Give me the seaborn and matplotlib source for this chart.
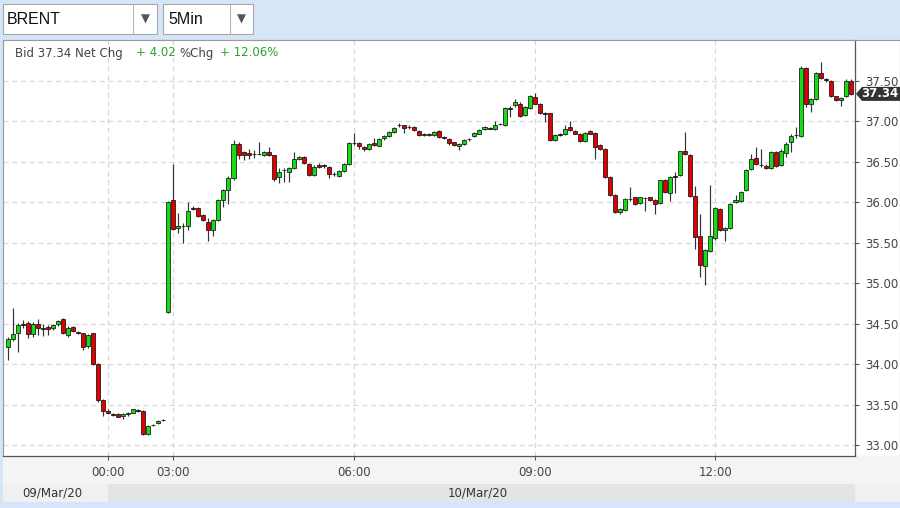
import numpy as np
import pandas as pd
import matplotlib
matplotlib.use("Agg")
import matplotlib.pyplot as plt
import seaborn as sns
from matplotlib.patches import Rectangle, Polygon

# ---------------- data ----------------
symbol = "BRENT"
interval = "5Min"
bid_text = "Bid 37.34 Net Chg"
net_chg = "+ 4.02"
pct_label = "%Chg"
pct_chg = "+ 12.06%"
last_price = 37.34
last_label = "37.34"

opens = [
    34.21, 34.31, 34.38, 34.50, 34.51, 34.37, 34.50, 34.45, 34.46, 34.45,
    34.49, 34.56, 34.36, 34.46, 34.40, 34.38, 34.22, 34.38, 34.00, 33.56,
    33.42, 33.38, 33.38, 33.36, 33.38, 33.40, 33.43, 33.42, 33.14, 33.24,
    33.27, 33.31,
    34.64, 36.03, 35.68, 35.70, 35.71, 35.92, 35.93, 35.84, 35.76, 35.66,
    35.78, 36.03, 36.15, 36.30, 36.72, 36.62, 36.61, 36.60, 36.60, 36.59,
    36.62, 36.58, 36.31, 36.40, 36.38, 36.43, 36.54, 36.56, 36.47, 36.34,
    36.46, 36.46, 36.44, 36.35, 36.33, 36.39, 36.47, 36.73, 36.73, 36.68,
    36.66, 36.73, 36.70, 36.79, 36.82, 36.87, 36.95, 36.95, 36.93, 36.93,
    36.88, 36.83, 36.85, 36.83, 36.88, 36.81, 36.78, 36.74, 36.69, 36.72,
    36.78, 36.82, 36.85, 36.90, 36.91, 36.91, 36.97, 36.95, 37.16, 37.20,
    37.22, 37.08, 37.16, 37.30, 37.22, 37.10, 37.10, 36.77, 36.84, 36.84,
    36.93, 36.88, 36.85, 36.76, 36.88, 36.86, 36.71, 36.66, 36.31, 36.09,
    35.88, 35.91, 36.04, 36.06, 35.99, 36.05, 36.06, 36.03, 35.99, 36.27,
    36.12, 36.32, 36.34, 36.64, 36.59, 36.08, 35.58, 35.21, 35.40, 35.56,
    35.92, 35.66, 35.68, 36.00, 36.01, 36.15, 36.41, 36.55, 36.46, 36.45,
    36.42, 36.62, 36.46, 36.61, 36.74, 36.83, 36.82, 37.66, 37.22, 37.28,
    37.60, 37.52, 37.50, 37.31, 37.26, 37.31, 37.50,
]
highs = [
    34.34, 34.69, 34.51, 34.55, 34.53, 34.52, 34.56, 34.49, 34.48, 34.49,
    34.54, 34.57, 34.47, 34.47, 34.41, 34.39, 34.37, 34.39, 34.01, 33.57,
    33.44, 33.40, 33.39, 33.39, 33.41, 33.45, 33.44, 33.43, 33.25, 33.26,
    33.31, 33.32,
    36.01, 36.47, 35.87, 35.75, 36.00, 35.95, 35.94, 35.85, 35.80, 35.79,
    36.04, 36.17, 36.33, 36.77, 36.74, 36.63, 36.66, 36.65, 36.75, 36.64,
    36.68, 36.59, 36.43, 36.42, 36.44, 36.62, 36.57, 36.57, 36.48, 36.46,
    36.48, 36.47, 36.45, 36.37, 36.40, 36.48, 36.74, 36.86, 36.75, 36.70,
    36.73, 36.79, 36.80, 36.83, 36.88, 36.93, 36.98, 36.96, 36.95, 36.94,
    36.89, 36.86, 36.86, 36.88, 36.89, 36.82, 36.79, 36.75, 36.73, 36.78,
    36.80, 36.87, 36.90, 36.94, 36.93, 37.00, 36.98, 37.18, 37.19, 37.28,
    37.24, 37.19, 37.33, 37.35, 37.23, 37.12, 37.11, 36.84, 36.86, 36.96,
    37.01, 36.89, 36.86, 36.87, 36.89, 36.87, 36.72, 36.67, 36.32, 36.10,
    35.93, 36.05, 36.19, 36.07, 36.07, 36.06, 36.07, 36.04, 36.28, 36.29,
    36.32, 36.37, 36.64, 36.87, 36.60, 36.20, 35.85, 35.42, 36.21, 35.94,
    35.93, 35.69, 35.99, 36.09, 36.14, 36.41, 36.60, 36.68, 36.66, 36.47,
    36.64, 36.63, 36.66, 36.74, 36.84, 36.93, 37.68, 37.67, 37.29, 37.61,
    37.74, 37.54, 37.51, 37.32, 37.30, 37.52, 37.52,
]
lows = [
    34.05, 34.28, 34.15, 34.45, 34.32, 34.33, 34.36, 34.35, 34.36, 34.42,
    34.47, 34.37, 34.34, 34.40, 34.37, 34.17, 34.20, 33.99, 33.53, 33.36,
    33.38, 33.36, 33.34, 33.32, 33.36, 33.39, 33.41, 33.12, 33.12, 33.23,
    33.26, 33.30,
    34.63, 35.66, 35.62, 35.50, 35.66, 35.90, 35.82, 35.77, 35.52, 35.58,
    35.77, 35.94, 35.98, 36.28, 36.53, 36.52, 36.53, 36.55, 36.58, 36.57,
    36.57, 36.26, 36.24, 36.25, 36.25, 36.41, 36.52, 36.47, 36.32, 36.33,
    36.42, 36.43, 36.30, 36.33, 36.31, 36.38, 36.46, 36.71, 36.66, 36.63,
    36.65, 36.70, 36.69, 36.77, 36.81, 36.86, 36.93, 36.86, 36.91, 36.88,
    36.82, 36.82, 36.82, 36.82, 36.80, 36.78, 36.71, 36.70, 36.65, 36.71,
    36.76, 36.81, 36.84, 36.89, 36.90, 36.89, 36.96, 36.94, 37.06, 37.18,
    37.06, 37.07, 37.15, 37.21, 37.09, 36.99, 36.76, 36.76, 36.82, 36.83,
    36.88, 36.84, 36.74, 36.75, 36.84, 36.54, 36.65, 36.30, 36.08, 35.87,
    35.86, 35.89, 36.02, 35.97, 35.98, 35.89, 36.02, 35.86, 35.98, 36.12,
    36.02, 36.11, 36.33, 36.59, 36.06, 35.42, 35.08, 34.98, 35.38, 35.54,
    35.65, 35.52, 35.67, 35.99, 36.00, 36.14, 36.40, 36.46, 36.44, 36.41,
    36.41, 36.44, 36.45, 36.56, 36.62, 36.80, 36.81, 37.18, 37.12, 37.27,
    37.53, 37.49, 37.30, 37.25, 37.19, 37.30, 37.33,
]
closes = [
    34.31, 34.37, 34.48, 34.48, 34.37, 34.50, 34.45, 34.43, 34.43, 34.48,
    34.53, 34.39, 34.45, 34.41, 34.38, 34.21, 34.36, 34.00, 33.56, 33.42,
    33.39, 33.37, 33.35, 33.38, 33.40, 33.44, 33.42, 33.14, 33.23, 33.25,
    33.30, 33.31,
    36.00, 35.67, 35.71, 35.71, 35.89, 35.93, 35.83, 35.78, 35.66, 35.78,
    36.03, 36.15, 36.30, 36.72, 36.58, 36.59, 36.58, 36.60, 36.60, 36.62,
    36.59, 36.29, 36.38, 36.40, 36.42, 36.53, 36.56, 36.49, 36.34, 36.44,
    36.44, 36.45, 36.35, 36.35, 36.39, 36.47, 36.73, 36.73, 36.69, 36.66,
    36.72, 36.71, 36.78, 36.82, 36.87, 36.92, 36.96, 36.92, 36.93, 36.89,
    36.83, 36.85, 36.83, 36.87, 36.81, 36.79, 36.73, 36.71, 36.72, 36.77,
    36.78, 36.86, 36.89, 36.93, 36.91, 36.96, 36.97, 37.17, 37.16, 37.24,
    37.07, 37.18, 37.31, 37.22, 37.10, 37.09, 36.77, 36.83, 36.84, 36.91,
    36.89, 36.85, 36.76, 36.86, 36.85, 36.68, 36.66, 36.31, 36.09, 35.88,
    35.92, 36.04, 36.04, 35.98, 36.06, 36.05, 36.03, 35.98, 36.27, 36.13,
    36.31, 36.32, 36.63, 36.60, 36.08, 35.57, 35.22, 35.41, 35.58, 35.93,
    35.66, 35.68, 35.98, 36.03, 36.13, 36.40, 36.54, 36.47, 36.46, 36.42,
    36.62, 36.45, 36.64, 36.72, 36.82, 36.84, 37.66, 37.22, 37.28, 37.60,
    37.54, 37.51, 37.31, 37.26, 37.29, 37.50, 37.34,
]

time_tick_pos = [20, 33, 69, 105, 141]
time_tick_labels = ["00:00", "03:00", "06:00", "09:00", "12:00"]
price_ticks = [33.0, 33.5, 34.0, 34.5, 35.0, 35.5, 36.0, 36.5, 37.0, 37.5]
price_tick_labels = ["33.00", "33.50", "34.00", "34.50", "35.00",
                     "35.50", "36.00", "36.50", "37.00", "37.50"]
date_labels = ["09/Mar/20", "10/Mar/20"]

# ---------------- styling ----------------
sns.set_style("white")
plt.rcParams["font.family"] = ["DejaVu Sans"]

W, H = 900, 508
fig = plt.figure(figsize=(W / 100, H / 100), dpi=100)
fig.patch.set_facecolor("#d6e6f8")


def fx(x):
    return x / W


def fy(y):
    return 1 - y / H


def frect(x0, y0, x1, y1, **kw):
    r = Rectangle((fx(x0), fy(y1)), fx(x1) - fx(x0), fy(y0) - fy(y1),
                  transform=fig.transFigure, **kw)
    fig.patches.append(r)
    return r


# chart panel backgrounds
frect(3, 40, 900, 456, facecolor="white", edgecolor="#9a9a9a", lw=0.8, zorder=-2)
frect(3, 456, 900, 484, facecolor="#f3f4f6", edgecolor="none", zorder=-2)
frect(3, 484, 108, 502, facecolor="#f0f0f2", edgecolor="none", zorder=-2)
frect(108, 484, 855, 502, facecolor="#e3e4e6", edgecolor="none", zorder=-2)
frect(855, 484, 900, 502, facecolor="#f0f0f2", edgecolor="none", zorder=-2)

# top dropdowns
frect(3, 4, 157, 34, facecolor="white", edgecolor="#a8a8a8", lw=0.8, zorder=1)
fig.add_artist(plt.Line2D([fx(133), fx(133)], [fy(5), fy(33)], color="#b5b5b5", lw=0.8,
                          transform=fig.transFigure))
fig.text(fx(7), fy(19), symbol, fontsize=11.5, family="Liberation Sans", va="center",
         ha="left", color="#111111")
fig.text(fx(145), fy(19.5), "▼", fontsize=8.5, va="center", ha="center", color="#555555")
frect(163, 4, 253, 34, facecolor="white", edgecolor="#a8a8a8", lw=0.8, zorder=1)
fig.add_artist(plt.Line2D([fx(230), fx(230)], [fy(5), fy(33)], color="#b5b5b5", lw=0.8,
                          transform=fig.transFigure))
fig.text(fx(168), fy(19), interval, fontsize=11.5, family="Liberation Sans", va="center",
         ha="left", color="#111111")
fig.text(fx(241), fy(19.5), "▼", fontsize=8.5, va="center", ha="center", color="#555555")

# ---------------- axes ----------------
ax = fig.add_axes([fx(3), fy(456), fx(855) - fx(3), fy(40) - fy(456)])
ax.set_facecolor("white")

df = pd.DataFrame({"i": np.arange(len(opens)), "open": opens, "high": highs,
                   "low": lows, "close": closes})
df["bottom"] = df[["open", "close"]].min(axis=1)
df["height"] = (df["close"] - df["open"]).abs()
diff = df["close"] - df["open"]
df["kind"] = np.where(diff > 0.015, "up", np.where(diff < -0.015, "down", "flat"))
df.loc[df["kind"] == "flat", "height"] = 0.006
df.loc[df["kind"] == "flat", "bottom"] = (df["open"] + df["close"]) / 2 - 0.003

# wicks
ax.vlines(df["i"], df["low"], df["high"], color="#333333", lw=0.85, zorder=2)

colors = {"up": "#16dc16", "down": "#e00000", "flat": "#111111"}
for kind, col in colors.items():
    sub = df[df["kind"] == kind].sort_values("i")
    sns.barplot(data=sub, x="i", y="height", bottom=sub["bottom"].to_numpy(),
                native_scale=True, width=0.8, color=col, saturation=1,
                edgecolor="#111111", linewidth=0.55, errorbar=None, ax=ax, zorder=3)

ax.set_xlabel("")
ax.set_ylabel("")
x_lo = (3 - 7.6) / 5.02
x_hi = (855 - 7.6) / 5.02
ax.set_xlim(x_lo, x_hi)
y_top = 33 + (445 - 40) / 80.9
y_bot = 33 - (456 - 445) / 80.9
ax.set_ylim(y_bot, y_top)

ax.yaxis.tick_right()
ax.set_yticks(price_ticks)
ax.set_yticklabels(price_tick_labels)
ax.set_xticks(time_tick_pos)
ax.set_xticklabels(time_tick_labels)
ax.tick_params(axis="both", which="both", labelsize=8.5, labelcolor="#444444",
               color="#555555", length=3, width=0.8, direction="out", pad=3)
ax.tick_params(axis="y", right=True, left=False, pad=4)
ax.tick_params(axis="x", bottom=True, pad=4)

for v in price_ticks:
    ax.axhline(v, color="#d8d8d8", lw=0.9, ls=(0, (4, 3)), zorder=0)
for t in time_tick_pos:
    ax.axvline(t, color="#d8d8d8", lw=0.9, ls=(0, (4, 3)), zorder=0)
ax.grid(False)

for s in ["left", "top"]:
    ax.spines[s].set_color("#9a9a9a")
    ax.spines[s].set_linewidth(0.8)
for s in ["right", "bottom"]:
    ax.spines[s].set_color("#555555")
    ax.spines[s].set_linewidth(0.9)

# header text
fig.text(fx(15), fy(53), bid_text, fontsize=8.5, color="#444444", va="center", ha="left")
fig.text(fx(136), fy(53), net_chg, fontsize=8.5, color="#2aa52a", va="center", ha="left")
fig.text(fx(179), fy(53), pct_label, fontsize=8.5, color="#444444", va="center", ha="left")
fig.text(fx(220), fy(53), pct_chg, fontsize=8.5, color="#2aa52a", va="center", ha="left")

# last price tag
yp = 445 - (last_price - 33) * 80.9
tag = Polygon([(fx(856), fy(yp)), (fx(862), fy(yp - 7)), (fx(900), fy(yp - 7)),
               (fx(900), fy(yp + 7)), (fx(862), fy(yp + 7))], closed=True,
              transform=fig.transFigure, facecolor="#333333", edgecolor="none", zorder=5)
fig.patches.append(tag)
fig.text(fx(880), fy(yp), last_label, fontsize=8.5, color="white", va="center",
         ha="center", zorder=6, fontweight="bold")

# date band labels
fig.text(fx(52), fy(493), date_labels[0], fontsize=8.5, color="#333333", va="center", ha="center")
fig.text(fx(478), fy(493), date_labels[1], fontsize=8.5, color="#333333", va="center", ha="center")

fig.savefig("out.png", dpi=100, facecolor=fig.get_facecolor())
